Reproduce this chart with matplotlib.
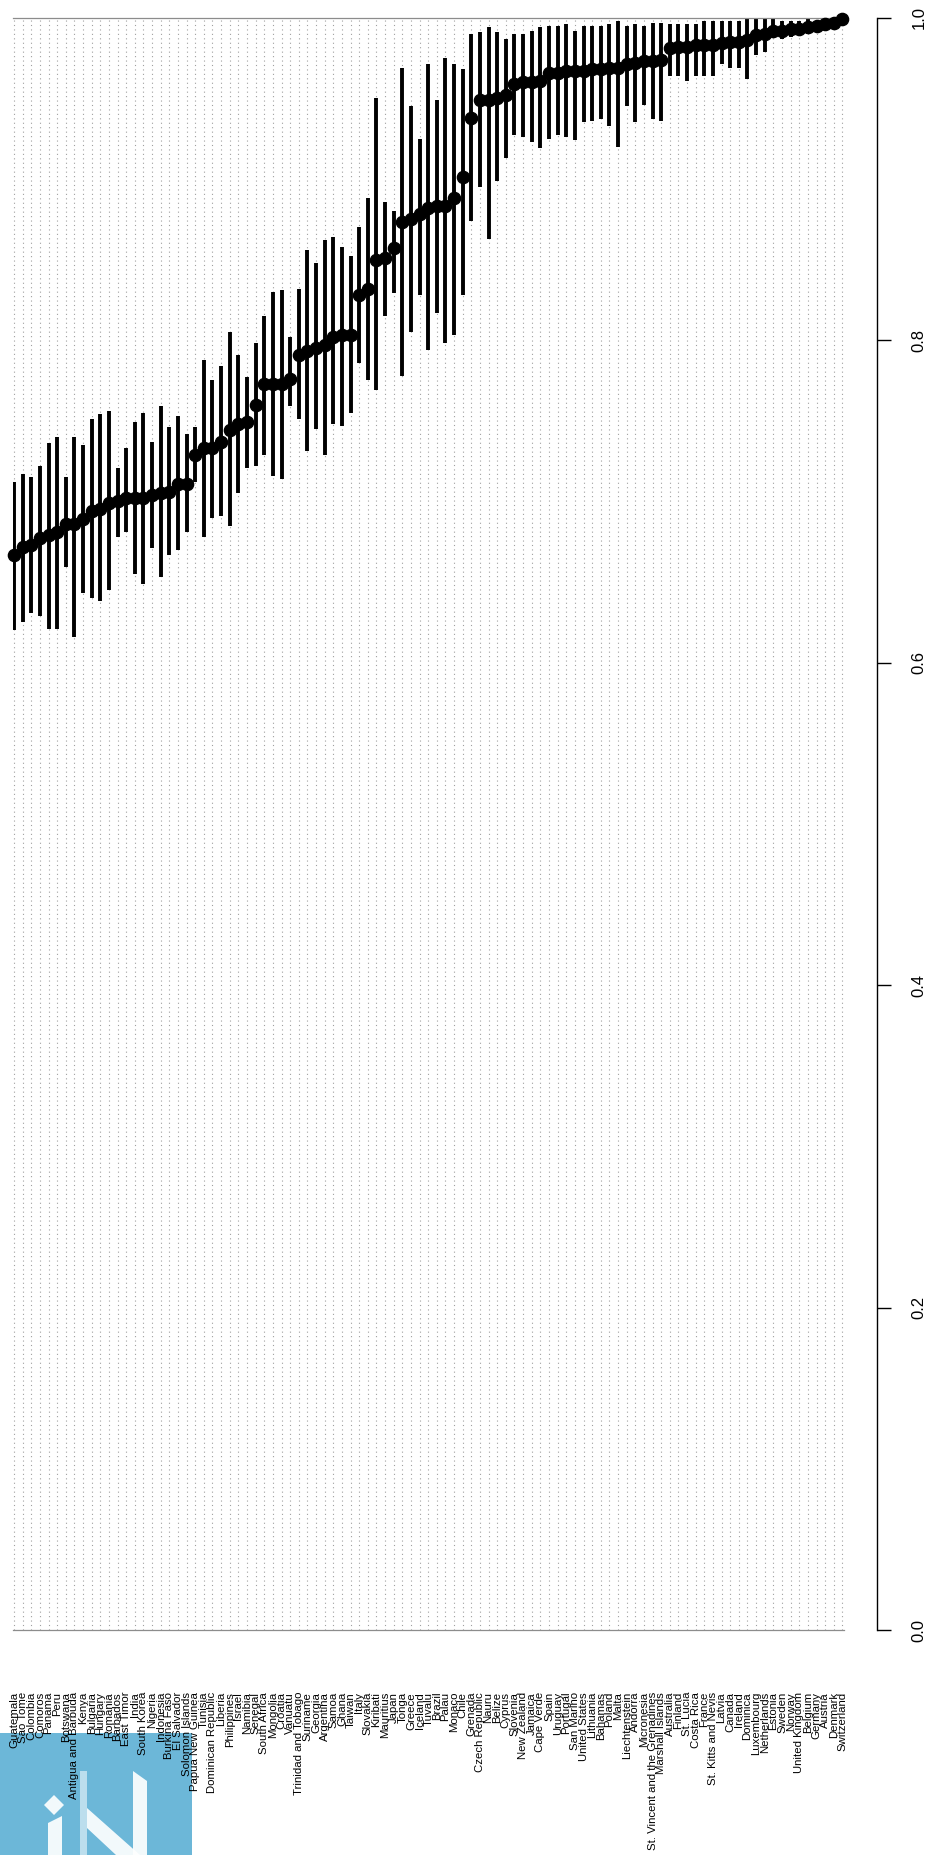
import numpy as np
import matplotlib
matplotlib.use("Agg")
import matplotlib.pyplot as plt
from matplotlib.patches import Polygon, Rectangle

plt.rcParams['font.family'] = ['Liberation Sans', 'DejaVu Sans']

# countries, sorted by estimate (left -> right)
countries = [
    "Guatemala", "Sao Tome", "Colombia", "Comoros", "Panama", "Peru", "Botswana",
    "Antigua and Barbuda", "Kenya", "Bulgaria", "Hungary", "Romania", "Barbados",
    "East Timor", "India", "South Korea", "Nigeria", "Indonesia", "Burkina Faso",
    "El Salvador", "Solomon Islands", "Papua New Guinea", "Tunisia",
    "Dominican Republic", "Liberia", "Philippines", "Israel", "Namibia", "Senegal",
    "South Africa", "Mongolia", "Croatia", "Vanuatu", "Trinidad and Tobago",
    "Suriname", "Georgia", "Argentina", "Samoa", "Ghana", "Taiwan", "Italy",
    "Slovakia", "Kiribati", "Mauritius", "Japan", "Tonga", "Greece", "Iceland",
    "Tuvalu", "Brazil", "Palau", "Monaco", "Chile", "Grenada", "Czech Republic",
    "Nauru", "Belize", "Cyprus", "Slovenia", "New Zealand", "Jamaica", "Cape Verde",
    "Spain", "Uruguay", "Portugal", "San Marino", "United States", "Lithuania",
    "Bahamas", "Poland", "Malta", "Liechtenstein", "Andorra", "Micronesia",
    "St. Vincent and the Grenadines", "Marshall Islands", "Australia", "Finland",
    "St. Lucia", "Costa Rica", "France", "St. Kitts and Nevis", "Latvia", "Canada",
    "Ireland", "Dominica", "Luxembourg", "Netherlands", "Estonia", "Sweden",
    "Norway", "United Kingdom", "Belgium", "Germany", "Austria", "Denmark",
    "Switzerland",
]

# point estimates
estimate = [
    0.667, 0.672, 0.673, 0.677, 0.679, 0.681, 0.686, 0.686, 0.689, 0.694,
    0.695, 0.699, 0.700, 0.702, 0.702, 0.702, 0.704, 0.705, 0.706, 0.711,
    0.711, 0.729, 0.733, 0.733, 0.737, 0.744, 0.748, 0.749, 0.760, 0.773,
    0.773, 0.773, 0.776, 0.791, 0.793, 0.795, 0.797, 0.802, 0.803, 0.803,
    0.828, 0.832, 0.850, 0.851, 0.857, 0.873, 0.875, 0.878, 0.882, 0.883,
    0.883, 0.888, 0.901, 0.938, 0.949, 0.949, 0.950, 0.952, 0.959, 0.960,
    0.960, 0.961, 0.966, 0.966, 0.967, 0.967, 0.967, 0.968, 0.968, 0.969,
    0.969, 0.971, 0.972, 0.973, 0.973, 0.974, 0.981, 0.982, 0.982, 0.983,
    0.983, 0.983, 0.984, 0.985, 0.985, 0.986, 0.989, 0.990, 0.992, 0.992,
    0.993, 0.993, 0.994, 0.995, 0.996, 0.997, 0.999,
]

# upper end of the interval
upper = [
    0.712, 0.717, 0.715, 0.722, 0.736, 0.740, 0.715, 0.740, 0.735, 0.751,
    0.754, 0.756, 0.721, 0.733, 0.749, 0.755, 0.737, 0.759, 0.746, 0.753,
    0.742, 0.746, 0.788, 0.775, 0.784, 0.805, 0.791, 0.777, 0.798, 0.815,
    0.830, 0.831, 0.802, 0.832, 0.856, 0.848, 0.862, 0.864, 0.858, 0.852,
    0.870, 0.888, 0.950, 0.886, 0.880, 0.969, 0.945, 0.925, 0.971, 0.949,
    0.975, 0.971, 0.968, 0.990, 0.991, 0.994, 0.991, 0.987, 0.990, 0.990,
    0.992, 0.994, 0.995, 0.995, 0.996, 0.992, 0.995, 0.995, 0.995, 0.996,
    0.998, 0.995, 0.996, 0.995, 0.997, 0.997, 0.996, 0.996, 0.996, 0.996,
    0.998, 0.998, 0.998, 0.998, 0.998, 1.000, 0.999, 0.999, 0.999, 0.998,
    0.998, 0.998, 0.999, 0.998, 0.999, 0.999, 1.000,
]

# lower end of the interval
lower = [
    0.620, 0.625, 0.631, 0.629, 0.621, 0.621, 0.659, 0.616, 0.643, 0.640,
    0.638, 0.645, 0.678, 0.681, 0.655, 0.649, 0.671, 0.653, 0.667, 0.670,
    0.681, 0.712, 0.678, 0.690, 0.691, 0.685, 0.705, 0.721, 0.722, 0.729,
    0.716, 0.714, 0.759, 0.751, 0.731, 0.745, 0.729, 0.748, 0.747, 0.755,
    0.786, 0.775, 0.769, 0.815, 0.829, 0.778, 0.805, 0.828, 0.794, 0.817,
    0.798, 0.803, 0.828, 0.874, 0.895, 0.863, 0.899, 0.913, 0.927, 0.926,
    0.923, 0.919, 0.925, 0.927, 0.926, 0.924, 0.935, 0.936, 0.937, 0.933,
    0.920, 0.945, 0.935, 0.946, 0.937, 0.936, 0.964, 0.964, 0.961, 0.964,
    0.964, 0.964, 0.971, 0.969, 0.969, 0.962, 0.977, 0.979, 0.988, 0.987,
    0.988, 0.990, 0.990, 0.992, 0.993, 0.993, 0.997,
]

y_ticks = [0.0, 0.2, 0.4, 0.6, 0.8, 1.0]
y_tick_labels = ["0.0", "0.2", "0.4", "0.6", "0.8", "1.0"]

x = np.arange(len(countries))

W, H = 930, 1855
fig = plt.figure(figsize=(W / 100, H / 100), dpi=100)

# logo in the lower left corner (drawn in pixel coords, behind everything)
bg = fig.add_axes([0, 0, 1, 1], zorder=-5)
bg.set_xlim(0, W)
bg.set_ylim(H, 0)
bg.axis('off')
blue = '#6cb7d8'
bg.add_patch(Rectangle((0, 1733), 192, 122, color=blue, lw=0))
white = dict(color='white', alpha=0.92, lw=0)
bg.add_patch(Polygon([(54, 1795), (64, 1805), (54, 1815), (44, 1805)], **white))
bg.add_patch(Polygon([(48, 1823), (62, 1816), (62, 1855), (48, 1855)], **white))
bg.add_patch(Polygon([(80, 1771), (87, 1771), (87, 1855), (80, 1855)], color='white', alpha=0.55, lw=0))
bg.add_patch(Polygon([(87, 1808), (87, 1828), (116, 1855), (140, 1855)], **white))
bg.add_patch(Polygon([(133, 1771), (147, 1781), (147, 1855), (133, 1855)], **white))

# main panel
ax = fig.add_axes([12.7 / W, 225 / H, 831 / W, 1612.3 / H])
ax.set_facecolor('none')

# dotted guide line for every country
ax.vlines(x, 0, 1, colors='#a0a0a0', linestyles=(0, (1, 3)), linewidth=0.8, zorder=1)

# intervals and estimates
ax.vlines(x, lower, upper, colors='black', linewidth=2.8, zorder=2)
ax.plot(x, estimate, 'o', color='black', markersize=8.8, zorder=3, clip_on=False)

ax.set_xlim(-0.15, len(countries) - 1 + 0.15)
ax.set_ylim(0, 1)

# frame: grey lines at 0 and 1, axis on the right pushed outwards
ax.spines['left'].set_visible(False)
for s in ['top', 'bottom']:
    ax.spines[s].set_color('#8c8c8c')
    ax.spines[s].set_linewidth(0.9)
ax.spines['right'].set_position(('outward', 24))
ax.spines['right'].set_linewidth(1.0)

ax.yaxis.tick_right()
ax.set_yticks(y_ticks)
ax.set_yticklabels(y_tick_labels, rotation=90, va='center')
ax.tick_params(axis='y', direction='out', length=10, width=1, pad=15, labelsize=12)

ax.set_xticks(x)
ax.set_xticklabels(countries, rotation=90, fontsize=8.2)
ax.tick_params(axis='x', length=0, pad=44.6)

fig.savefig('out.png', dpi=100)
